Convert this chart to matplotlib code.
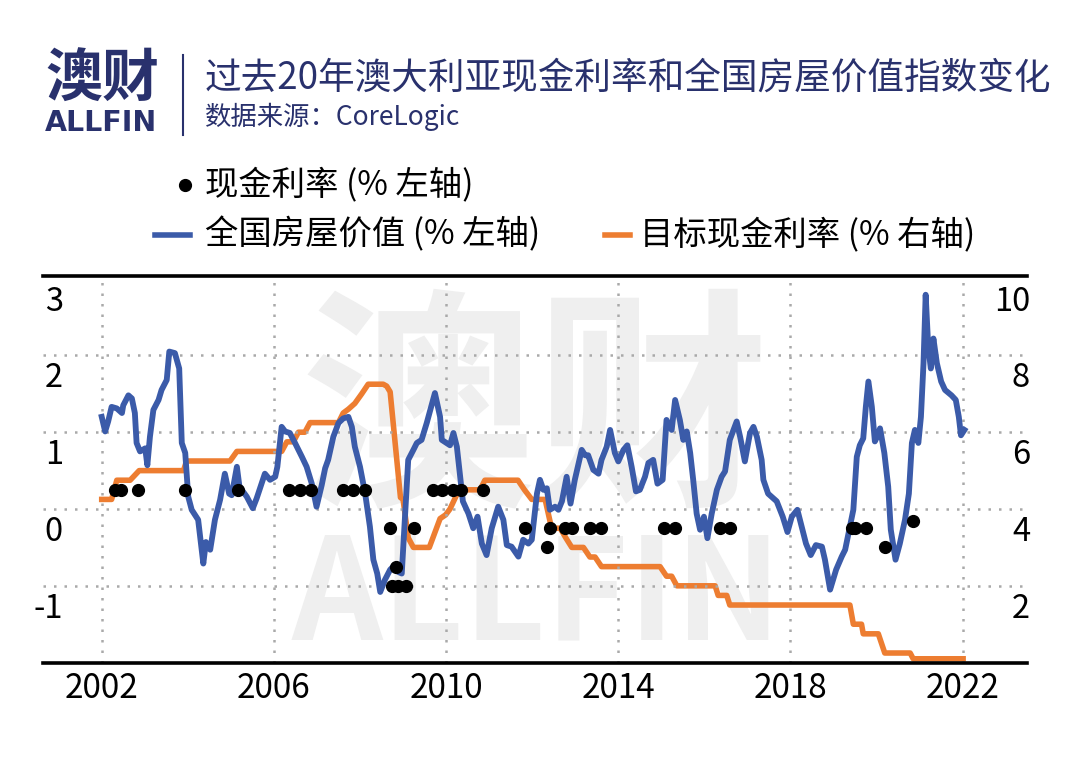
import numpy as np
import matplotlib.pyplot as plt
from matplotlib.lines import Line2D

plt.rcParams['font.family'] = ['Noto Sans CJK SC', 'DejaVu Sans']

# national house value index, monthly % change (left axis)
house_year = [
    2002.00, 2002.08, 2002.15, 2002.23, 2002.35, 2002.47, 2002.50, 2002.62, 2002.70, 2002.77,
    2002.81, 2002.89, 2003.01, 2003.06, 2003.12, 2003.20, 2003.32, 2003.39, 2003.51, 2003.57,
    2003.70, 2003.80, 2003.86, 2003.94, 2004.01, 2004.09, 2004.24, 2004.36, 2004.42, 2004.52,
    2004.63, 2004.75, 2004.86, 2004.96, 2005.02, 2005.14, 2005.20, 2005.37, 2005.51, 2005.60,
    2005.79, 2005.91, 2006.03, 2006.08, 2006.18, 2006.26, 2006.37, 2006.49, 2006.65, 2006.76,
    2006.88, 2006.99, 2007.11, 2007.19, 2007.26, 2007.38, 2007.50, 2007.61, 2007.73, 2007.81,
    2007.88, 2008.00, 2008.12, 2008.23, 2008.31, 2008.40, 2008.47, 2008.58, 2008.70, 2008.77,
    2008.89, 2008.97, 2009.05, 2009.12, 2009.24, 2009.32, 2009.43, 2009.55, 2009.74, 2009.86,
    2009.90, 2010.01, 2010.09, 2010.17, 2010.25, 2010.32, 2010.39, 2010.52, 2010.63, 2010.73,
    2010.83, 2010.94, 2011.06, 2011.21, 2011.33, 2011.41, 2011.52, 2011.68, 2011.79, 2011.91,
    2011.99, 2012.11, 2012.18, 2012.26, 2012.34, 2012.41, 2012.53, 2012.61, 2012.69, 2012.80,
    2012.89, 2012.99, 2013.15, 2013.23, 2013.30, 2013.42, 2013.54, 2013.61, 2013.73, 2013.81,
    2013.92, 2014.00, 2014.12, 2014.21, 2014.31, 2014.41, 2014.50, 2014.62, 2014.70, 2014.81,
    2014.91, 2015.03, 2015.12, 2015.24, 2015.32, 2015.43, 2015.51, 2015.59, 2015.67, 2015.74,
    2015.82, 2015.90, 2015.99, 2016.07, 2016.17, 2016.29, 2016.40, 2016.48, 2016.59, 2016.75,
    2016.83, 2016.94, 2017.06, 2017.14, 2017.22, 2017.33, 2017.37, 2017.48, 2017.68, 2017.82,
    2017.93, 2018.03, 2018.16, 2018.26, 2018.36, 2018.47, 2018.59, 2018.73, 2018.80, 2018.92,
    2019.06, 2019.19, 2019.27, 2019.38, 2019.46, 2019.54, 2019.61, 2019.69, 2019.75, 2019.81,
    2019.89, 2019.96, 2020.03, 2020.08, 2020.18, 2020.27, 2020.33, 2020.44, 2020.54, 2020.66,
    2020.75, 2020.82, 2020.89, 2020.97, 2021.03, 2021.09, 2021.14, 2021.20, 2021.26, 2021.32,
    2021.40, 2021.50, 2021.59, 2021.74, 2021.84, 2021.91, 2021.96, 2022.04,
]
house_chg = [
    1.20, 1.01, 1.14, 1.33, 1.31, 1.25, 1.35, 1.48, 1.44, 1.25,
    0.86, 0.75, 0.79, 0.57, 0.94, 1.29, 1.42, 1.55, 1.68, 2.05,
    2.03, 1.83, 0.86, 0.73, 0.16, -0.01, -0.14, -0.71, -0.43, -0.53,
    -0.14, 0.12, 0.46, 0.20, 0.18, 0.55, 0.29, 0.16, 0.01, 0.14,
    0.46, 0.38, 0.42, 0.55, 1.07, 1.01, 0.99, 0.86, 0.68, 0.55,
    0.33, 0.03, 0.31, 0.53, 0.64, 0.94, 1.12, 1.18, 1.20, 1.07,
    0.81, 0.55, 0.20, -0.23, -0.66, -0.84, -1.08, -0.92, -0.79, -0.75,
    -0.82, -0.84, -0.06, 0.64, 0.77, 0.86, 0.90, 1.12, 1.51, 1.20,
    0.90, 0.86, 0.83, 0.99, 0.81, 0.46, 0.10, -0.06, -0.25, -0.10,
    -0.45, -0.60, -0.25, 0.03, -0.14, -0.47, -0.49, -0.62, -0.40, -0.45,
    -0.40, 0.20, 0.38, 0.25, 0.27, -0.01, 0.03, -0.01, 0.10, 0.42,
    0.07, 0.38, 0.77, 0.70, 0.70, 0.51, 0.46, 0.64, 0.81, 1.03,
    0.73, 0.62, 0.77, 0.83, 0.55, 0.23, 0.25, 0.42, 0.60, 0.64,
    0.33, 0.38, 1.16, 1.03, 1.42, 1.16, 0.90, 1.01, 0.73, 0.38,
    -0.06, -0.27, -0.10, -0.38, -0.06, 0.25, 0.42, 0.49, 0.90, 1.14,
    0.94, 0.62, 0.99, 1.07, 0.94, 0.64, 0.38, 0.20, 0.10, -0.10,
    -0.30, -0.10, -0.01, -0.23, -0.45, -0.60, -0.47, -0.49, -0.66, -1.05,
    -0.79, -0.62, -0.53, -0.23, -0.01, 0.68, 0.83, 0.92, 1.33, 1.66,
    1.33, 0.88, 0.96, 1.05, 0.73, 0.29, -0.27, -0.66, -0.45, -0.14,
    0.20, 0.86, 1.03, 0.86, 1.20, 1.90, 2.79, 2.11, 1.83, 2.22,
    1.90, 1.66, 1.55, 1.48, 1.42, 1.20, 0.96, 1.03,
]

# cash rate moves, percentage points (left axis)
move_year = [2002.31, 2002.44, 2002.85, 2003.94, 2005.17, 2006.36, 2006.61, 2006.86,
             2007.60, 2007.84, 2008.12, 2008.70, 2008.74, 2008.84, 2008.89, 2009.06,
             2009.25, 2009.70, 2009.90, 2010.15, 2010.35, 2010.86, 2011.83, 2012.35,
             2012.41, 2012.76, 2012.92, 2013.34, 2013.60, 2015.06, 2015.32, 2016.36,
             2016.59, 2019.42, 2019.51, 2019.75, 2020.19, 2020.84]
move_chg = [0.25, 0.25, 0.25, 0.25, 0.25, 0.25, 0.25, 0.25,
            0.25, 0.25, 0.25, -0.25, -1.0, -0.75, -1.0, -1.0,
            -0.25, 0.25, 0.25, 0.25, 0.25, 0.25, -0.25, -0.5,
            -0.25, -0.25, -0.25, -0.25, -0.25, -0.25, -0.25, -0.25,
            -0.25, -0.25, -0.25, -0.25, -0.5, -0.15]

# target cash rate % (right axis)
rate_year = [2002.00, 2002.23, 2002.29, 2002.35, 2002.66, 2002.87, 2003.90, 2003.97,
             2004.98, 2005.14, 2006.18, 2006.30, 2006.45, 2006.57, 2006.72, 2006.84,
             2007.50, 2007.61, 2007.73, 2007.88, 2008.04, 2008.19, 2008.54, 2008.62,
             2008.70, 2008.94, 2009.00, 2009.12, 2009.24, 2009.61, 2009.86, 2009.99,
             2010.09, 2010.30, 2010.79, 2010.90, 2011.67, 2011.82, 2011.99, 2012.30,
             2012.45, 2012.65, 2012.78, 2012.92, 2013.19, 2013.34, 2013.46, 2013.61,
             2014.97, 2015.12, 2015.24, 2015.36, 2016.25, 2016.32, 2016.52, 2016.59,
             2019.38, 2019.46, 2019.65, 2019.69, 2020.04, 2020.19, 2020.78, 2020.85,
             2022.01]
rate_val = [4.25, 4.25, 4.50, 4.75, 4.75, 5.00, 5.00, 5.25,
            5.25, 5.50, 5.50, 5.75, 5.75, 6.00, 6.00, 6.25,
            6.25, 6.50, 6.60, 6.75, 7.00, 7.25, 7.25, 7.20,
            7.05, 4.30, 4.25, 3.25, 3.00, 3.00, 3.75, 3.85,
            4.00, 4.50, 4.50, 4.75, 4.75, 4.50, 4.25, 4.25,
            3.50, 3.50, 3.25, 3.00, 3.00, 2.75, 2.75, 2.50,
            2.50, 2.25, 2.25, 2.00, 2.00, 1.75, 1.75, 1.50,
            1.50, 1.00, 1.00, 0.75, 0.75, 0.25, 0.25, 0.10,
            0.10]

year_ticks = [2002, 2006, 2010, 2014, 2018, 2022]
left_ticks = [3, 2, 1, 0, -1]
right_ticks = [10, 8, 6, 4, 2]

navy = '#29316d'
blue = '#3b5ba9'
orange = '#ed7d31'

W, H = 1080, 767
fig = plt.figure(figsize=(W / 100, H / 100), dpi=100)


def fx(x):
    return x / W


def fy(y):
    return 1 - y / H


# header
fig.text(fx(45), fy(80), '澳财', fontsize=41, fontweight='bold', color=navy,
         ha='left', va='center')
fig.text(fx(45), fy(123), 'ALLFIN', family='DejaVu Sans', fontsize=20.5,
         fontweight='bold', color=navy, ha='left', va='center')
fig.add_artist(Line2D([fx(183), fx(183)], [fy(55), fy(135)], lw=1.5, color=navy,
                      transform=fig.transFigure))
fig.text(fx(205), fy(78), '过去20年澳大利亚现金利率和全国房屋价值指数变化',
         fontsize=26.4, color=navy, ha='left', va='center')
fig.text(fx(205), fy(117), '数据来源：CoreLogic', fontsize=19, color=navy,
         ha='left', va='center')

# watermark
fig.text(fx(535), fy(420), '澳财', fontsize=169, fontweight='bold', color='#efefef',
         ha='center', va='center', zorder=0.5)
fig.text(fx(537), fy(598), 'ALLFIN', fontsize=102, fontweight='bold', color='#efefef',
         ha='center', va='center', zorder=0.5)

# legend
fig.add_artist(Line2D([fx(185)], [fy(185)], marker='o', ms=8.5, color='black',
                      ls='none', transform=fig.transFigure))
fig.text(fx(205), fy(185), '现金利率 (% 左轴)', fontsize=24, ha='left', va='center')
fig.add_artist(Line2D([fx(155), fx(190)], [fy(235), fy(235)], lw=4, color=blue,
                      transform=fig.transFigure))
fig.text(fx(205), fy(235), '全国房屋价值 (% 左轴)', fontsize=24, ha='left', va='center')
fig.add_artist(Line2D([fx(605), fx(630)], [fy(235), fy(235)], lw=4, color=orange,
                      transform=fig.transFigure))
fig.text(fx(640), fy(235), '目标现金利率 (% 右轴)', fontsize=24, ha='left', va='center')

# chart
ax = fig.add_axes([fx(43), fy(663), (1027 - 43) / W, (663 - 276) / H])
ax2 = ax.twinx()
ax.set_zorder(2)
ax2.set_zorder(1)
ax.patch.set_visible(False)
ax2.patch.set_visible(False)

ax2.plot(rate_year, rate_val, color=orange, lw=4)
ax.plot(house_year, house_chg, color=blue, lw=4.2, solid_joinstyle='round')
ax.plot(move_year, move_chg, 'o', color='black', ms=8.5, ls='none')

ax.set_xlim(2000.636, 2023.494)
ax.set_ylim(-2.005, 3.034)
ax2.set_ylim(-0.01, 10.068)

ax.set_xticks(year_ticks)
ax.set_xticklabels([str(y) for y in year_ticks], fontsize=24)
ax.tick_params(axis='x', length=0, pad=6)
ax.set_yticks([-1, 0, 1, 2])
ax.tick_params(axis='y', left=False, labelleft=False)
ax2.tick_params(axis='y', right=False, labelright=False)

ax.set_axisbelow(True)
ax.grid(True, color='#a9a9a9', linestyle=(0, (1, 3.2)), linewidth=1.8)

for s in ['left', 'right']:
    ax.spines[s].set_visible(False)
for s in ax2.spines.values():
    s.set_visible(False)
for s in ['top', 'bottom']:
    ax.spines[s].set_linewidth(2.6)
    ax.spines[s].set_color('black')

# y labels sit a bit below their gridlines, like the original
for v in left_ticks:
    ax.annotate(str(v), xy=(0, v), xycoords=('axes fraction', 'data'),
                xytext=(14.4, -16.6), textcoords='offset points',
                ha='right', va='center', fontsize=23.5)
for v in right_ticks:
    ax2.annotate(str(v), xy=(1, v), xycoords=('axes fraction', 'data'),
                 xytext=(2.2, -16.6), textcoords='offset points',
                 ha='right', va='center', fontsize=23.5)

fig.savefig('out.png', dpi=100)
